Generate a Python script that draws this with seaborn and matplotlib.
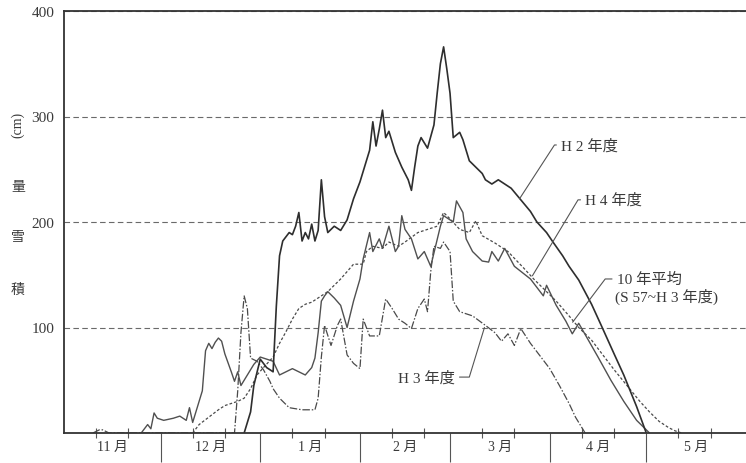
import matplotlib
matplotlib.use("Agg")
import matplotlib.pyplot as plt
import seaborn as sns

sns.set_style("white")
plt.rcParams["font.family"] = ["Liberation Serif", "Noto Sans CJK JP"]

# ─────────────────────────────────────────────
# Snow depth (cm), x = days since Nov 1
# ─────────────────────────────────────────────
h2_days = [56, 58, 59, 61, 63, 65, 66, 67, 68, 70, 71, 72, 73, 74, 75, 76, 77, 78, 79,
           80, 81, 82, 84, 86, 88, 90, 92, 93, 95, 96, 97, 98, 99, 100, 101, 103, 105,
           107, 108, 109, 110, 111, 113, 115, 116, 117, 118, 119, 120, 121, 123, 124,
           126, 128, 130, 131, 133, 135, 137, 139, 142, 145, 147, 150, 152, 155, 157,
           160, 164, 167, 171, 174, 178, 181]
h2_vals = [0, 20, 45, 70, 62, 58, 120, 168, 182, 190, 188, 196, 209, 182, 190, 184, 198,
           182, 192, 240, 205, 190, 196, 192, 202, 222, 238, 248, 268, 295, 272, 288, 306,
           280, 286, 266, 252, 240, 230, 252, 272, 280, 270, 292, 322, 350, 366, 345, 322,
           280, 285, 278, 258, 252, 246, 240, 236, 240, 236, 232, 221, 210, 200, 190, 181,
           168, 158, 145, 122, 102, 75, 55, 25, 0]

h3_days = [9, 11, 12, 14, 53, 54, 55, 56, 57, 58, 60, 61, 62, 64, 65, 67, 70, 74, 78, 79,
           80, 81, 83, 85, 86, 88, 90, 92, 93, 95, 98, 100, 102, 104, 106, 108, 110, 112,
           113, 114, 115, 117, 118, 120, 121, 123, 127, 131, 134, 136, 138, 140, 142, 145,
           147, 151, 154, 157, 159, 161, 162]
h3_vals = [0, 3, 3, 0, 0, 40, 95, 130, 118, 71, 68, 64, 60, 49, 42, 33, 24, 22, 22, 33,
           72, 102, 83, 102, 108, 74, 66, 61, 108, 92, 92, 127, 118, 108, 104, 99, 118,
           127, 115, 153, 177, 175, 181, 172, 125, 115, 111, 102, 95, 87, 94, 83, 99, 85,
           77, 61, 45, 28, 15, 5, 0]

h4_days = [24, 26, 27, 28, 29, 31, 34, 36, 38, 39, 40, 42, 43, 44, 45, 46, 47, 48, 49, 50,
           52, 53, 54, 55, 57, 59, 61, 63, 65, 67, 69, 71, 73, 75, 77, 78, 79, 80, 81, 82,
           84, 86, 88, 90, 92, 93, 95, 96, 98, 99, 101, 103, 104, 105, 106, 108, 110, 112,
           114, 117, 118, 121, 122, 124, 125, 127, 130, 132, 133, 135, 137, 140, 145, 149,
           150, 153, 156, 158, 160, 163, 166, 170, 174, 178, 182]
h4_vals = [0, 8, 4, 19, 14, 12, 14, 16, 12, 24, 10, 30, 40, 78, 85, 80, 86, 90, 87, 75,
           58, 49, 58, 45, 55, 65, 72, 70, 68, 55, 58, 61, 58, 55, 62, 71, 95, 125, 130,
           134, 128, 121, 100, 125, 146, 165, 190, 172, 184, 175, 196, 172, 177, 206, 193,
           184, 165, 172, 158, 196, 206, 200, 220, 209, 184, 172, 163, 162, 172, 163, 175,
           158, 146, 130, 140, 121, 106, 94, 104, 88, 72, 50, 30, 12, 0]

avg_days = [40, 42, 45, 48, 50, 52, 54, 56, 58, 60, 62, 65, 67, 69, 71, 73, 75, 77, 79,
            82, 84, 86, 88, 90, 93, 94, 96, 99, 101, 104, 106, 110, 113, 116, 118, 120,
            123, 126, 128, 130, 134, 138, 143, 146, 150, 153, 157, 160, 164, 167, 171,
            175, 179, 182, 185, 188, 190, 192]
avg_vals = [0, 8, 15, 22, 26, 28, 30, 33, 42, 55, 62, 72, 85, 96, 108, 118, 122, 124, 128,
            134, 140, 146, 153, 160, 160, 172, 177, 175, 181, 177, 181, 190, 193, 196, 209,
            203, 193, 190, 201, 187, 180, 172, 156, 146, 134, 125, 111, 100, 88, 76, 60,
            45, 30, 20, 11, 5, 2, 0]

month_starts = [0, 30, 61, 92, 120, 151, 181, 212]
month_mids = [15, 45.5, 76.5, 106, 135.5, 166, 196.5]
month_labels = ["11 月", "12 月", "1 月", "2 月", "3 月", "4 月", "5 月"]
ten_day_ticks = [s + k for s in month_starts[:-1] for k in (10, 20)]
y_ticks = [100, 200, 300, 400]

# label text, point on the curve, text position, leader angle
labels = [
    ("H 2 年度", (141.6, 222), (154.5, 273), 57, "left"),
    ("H 4 年度", (145.6, 149), (162.0, 221), 59, "left"),
    ("10 年平均", (158.1, 105), (171.8, 146), 53, "left"),
    ("H 3 年度", (130.7, 100), (121.5, 53), 73, "right"),
]

ink = "#3a3a3a"

fig = plt.figure(figsize=(7.46, 4.64), dpi=100)
ax = fig.add_axes([64 / 746, 30 / 464, 1 - 64 / 746, 422 / 464])

sns.lineplot(x=avg_days, y=avg_vals, ax=ax, color="#4a4a4a", linewidth=0.9,
             linestyle=(0, (2.2, 1.6)))
sns.lineplot(x=h3_days, y=h3_vals, ax=ax, color="#4a4a4a", linewidth=0.9,
             linestyle=(0, (6, 1.5, 1.2, 1.5)))
sns.lineplot(x=h4_days, y=h4_vals, ax=ax, color="#505050", linewidth=1.0)
sns.lineplot(x=h2_days, y=h2_vals, ax=ax, color="#2e2e2e", linewidth=1.2)

ax.set_xlim(0, 212)
ax.set_ylim(0, 400)

# y axis: labels only, dashed gridlines
ax.set_yticks(y_ticks)
ax.set_yticklabels([str(v) for v in y_ticks])
ax.tick_params(axis="y", length=0, pad=7, labelsize=11, labelcolor=ink)
ax.yaxis.grid(True, linestyle=(0, (5, 3)), color="#6a6a6a", linewidth=0.8)
ax.set_axisbelow(True)

# x axis: long month dividers, month names, short 10-day ticks
ax.set_xticks(month_starts[1:-1])
ax.set_xticklabels([])
ax.tick_params(axis="x", which="major", direction="out", length=21, width=0.8,
               color="#555555", bottom=True)
ax.set_xticks(month_mids, minor=True)
ax.set_xticklabels(month_labels, minor=True)
ax.tick_params(axis="x", which="minor", length=0, pad=5, labelsize=10, labelcolor=ink)

sec = ax.secondary_xaxis("bottom")
sec.set_xticks(ten_day_ticks)
sec.set_xticklabels([])
sec.tick_params(direction="inout", length=7, width=0.8, color="#555555")
sec.spines["bottom"].set_visible(False)

for side in ["left", "bottom", "top"]:
    ax.spines[side].set_color("#333333")
    ax.spines[side].set_linewidth(1.3)
ax.spines["right"].set_visible(False)
ax.set_xlabel("")
ax.set_ylabel("")

# leader-line labels
for text, point, pos, ang, ha in labels:
    ax.annotate(text, xy=point, xytext=pos, ha=ha, va="center", fontsize=11,
                color=ink,
                arrowprops=dict(arrowstyle="-", color="#555555", lw=0.8,
                                shrinkA=1, shrinkB=0,
                                relpos=(0 if ha == "left" else 1, 0.5),
                                connectionstyle=f"angle,angleA=0,angleB={ang},rad=0"))
ax.text(171.2, 130, "(S 57~H 3 年度)", ha="left", va="center", fontsize=11, color=ink)

# vertical y-axis title
for ch, ypix in [("積", 290), ("雪", 238), ("量", 188)]:
    fig.text(18 / 746, 1 - ypix / 464, ch, ha="center", va="center", fontsize=10,
             color=ink)
fig.text(18 / 746, 1 - 125 / 464, "(cm)", ha="center", va="center", fontsize=10,
         color=ink, rotation=90)

fig.savefig("out.png", dpi=100, facecolor="white")
plt.close(fig)
print("Saved: out.png")
